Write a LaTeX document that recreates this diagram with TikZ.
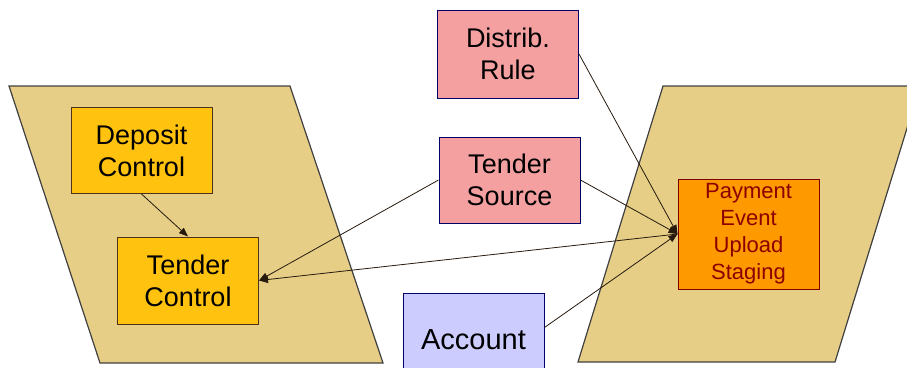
\documentclass[tikz,border=0pt]{standalone}
\usepackage{fontspec}
\setmainfont{Liberation Sans}
\usetikzlibrary{arrows.meta}
\definecolor{zoneTan}{RGB}{230,206,134}
\definecolor{ctlGold}{RGB}{255,194,14}
\definecolor{refPink}{RGB}{244,160,160}
\definecolor{acctLilac}{RGB}{204,204,255}
\definecolor{stageOrange}{RGB}{255,153,0}
\tikzset{
    >={Triangle[length=9pt,width=7pt]},
    % Colors
    entGold/.style={draw=black!60!brown, fill=ctlGold},
    entPink/.style={draw=black!60!blue, fill=refPink},
    entLilac/.style={draw=black!60!blue, fill=acctLilac},
    entOrange/.style={draw=black!50!red, fill=stageOrange, text=black!45!red},
    % Shapes
    entity/.style={rectangle, line width=1pt, minimum width=141pt, minimum height=86pt,
                   align=center, inner sep=2pt, font=\fontsize{27}{32}\selectfont},
    zone/.style={draw=black!75, line width=1.2pt, fill=zoneTan},
    % Flow
    link/.style={->, line width=0.8pt, black!80!brown}
}
\begin{document}
\begin{tikzpicture}[x=1pt, y=-1pt]
\useasboundingbox (0,0) rectangle (907,367);
\clip (0,0) rectangle (907,367);

% zones
\filldraw[zone] (9,86) -- (290,86) -- (383,363) -- (100,363) -- cycle;
\filldraw[zone] (663,86) -- (920,86) -- (835,362) -- (578,362) -- cycle;

\node[entity, entGold] (dep) at (141.5,150.5) {Deposit\\Control};
\node[entity, entGold, minimum height=87pt] (tctl) at (188,280.5) {Tender\\Control};
\node[entity, entPink, minimum height=88pt] (rule) at (508,54) {Distrib.\\Rule};
\node[entity, entPink] (src) at (509.5,180) {Tender\\Source};
\node[entity, entLilac, minimum height=94pt, font=\fontsize{29}{32}\selectfont] (acct) at (473.5,340) {Account};
\node[entity, entOrange, minimum height=110pt, font=\fontsize{22}{27}\selectfont] (peus) at (748.5,234) {Payment\\Event\\Upload\\Staging};

\draw[link] (dep.south) -- (tctl.north);
\draw[link] (src.west) -- (tctl.east);
\draw[link] (peus.west) -- (tctl.east);
\draw[link] (rule.east) -- (peus.west);
\draw[link] (src.east) -- (peus.west);
\draw[link] (acct.10) -- (peus.west);

\end{tikzpicture}
\end{document}
